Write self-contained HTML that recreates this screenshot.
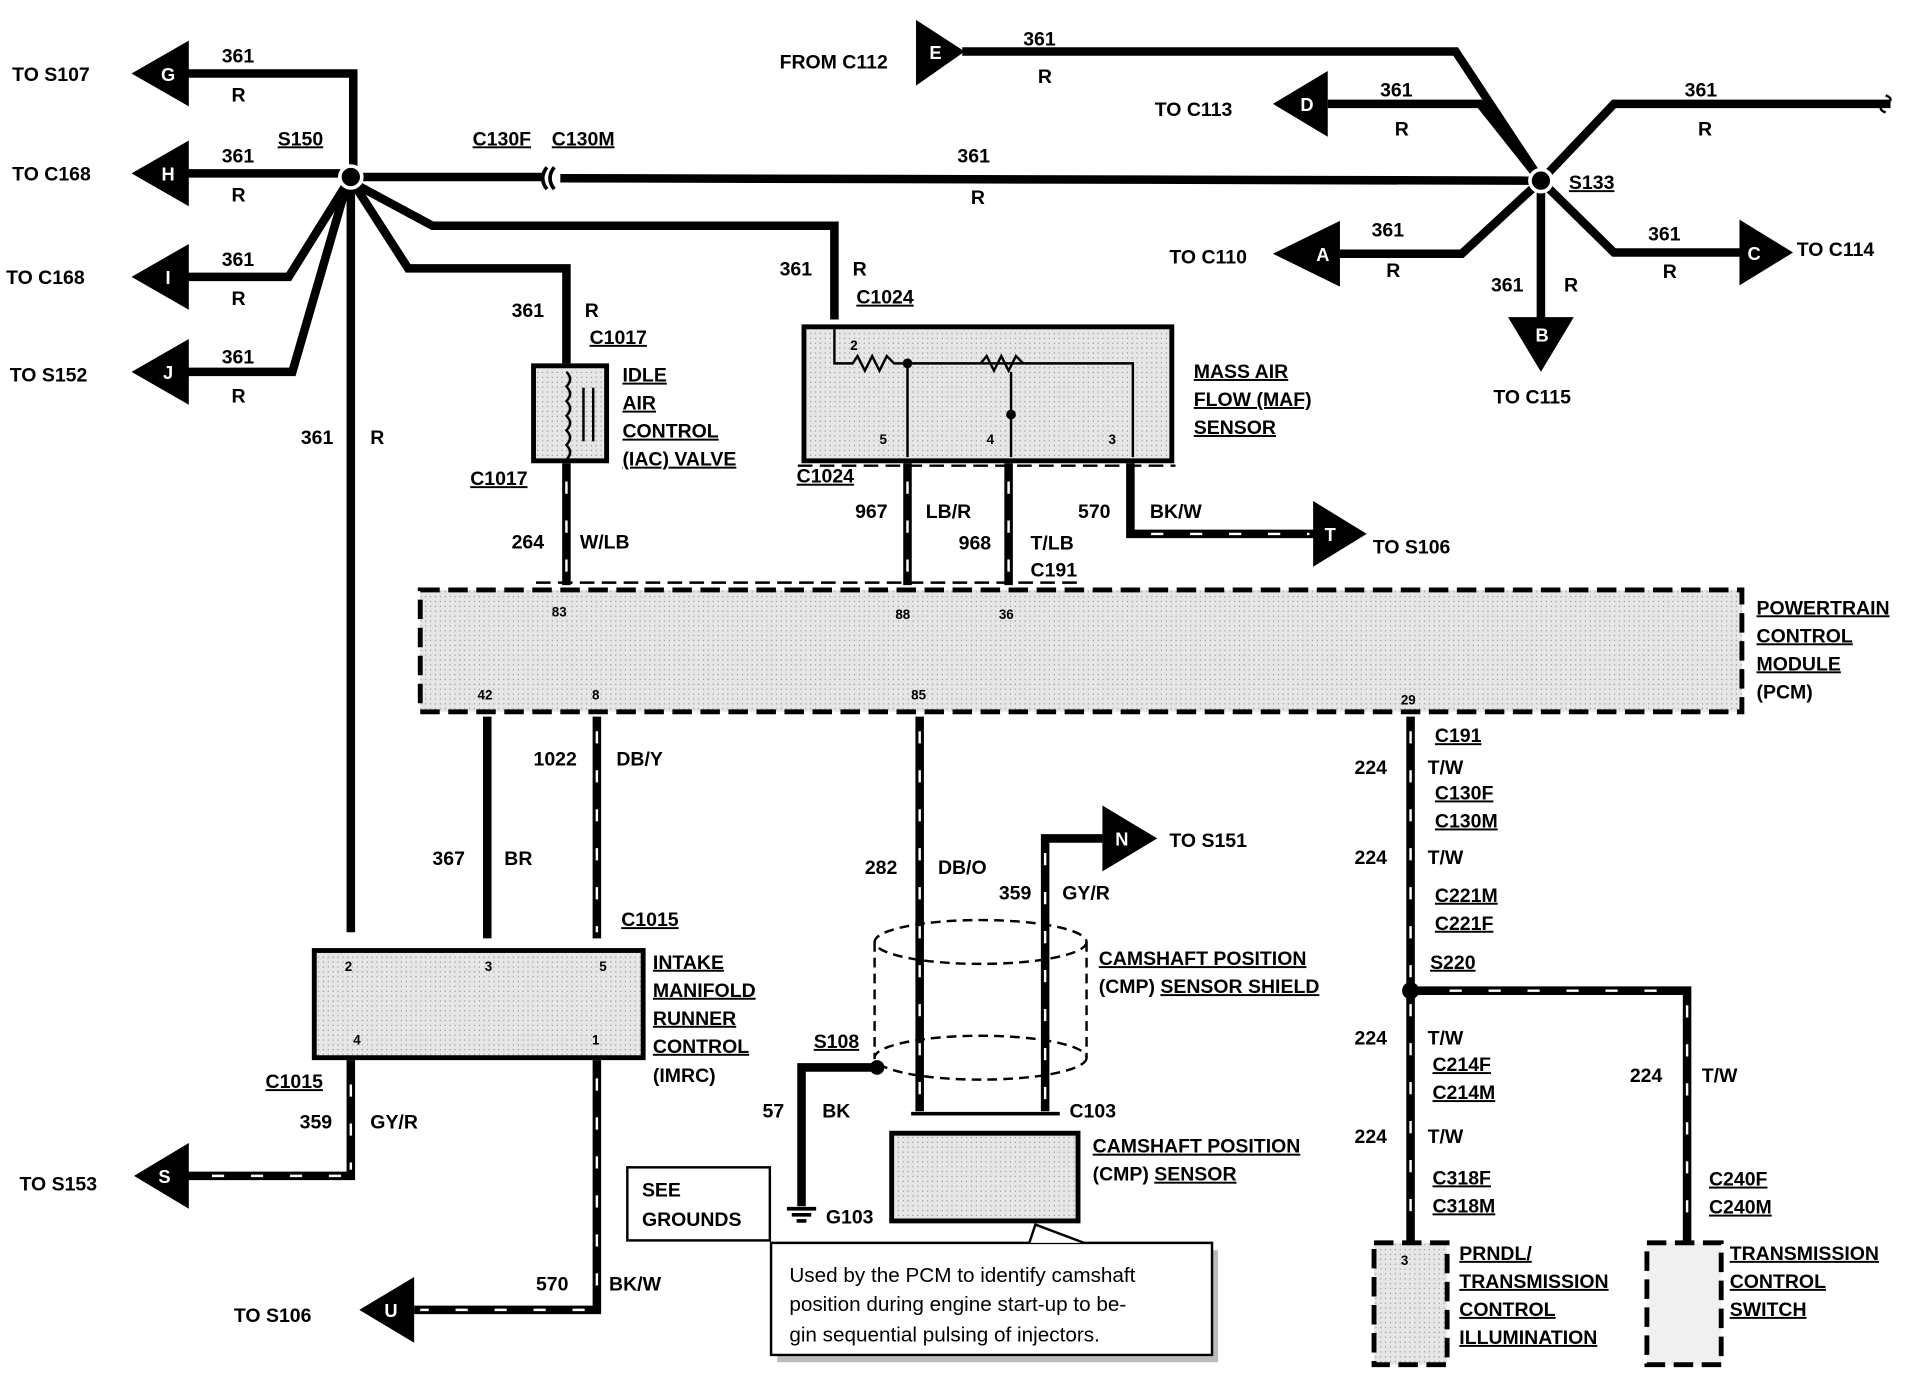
<!DOCTYPE html>
<html><head><meta charset="utf-8"><style>
html,body{margin:0;padding:0;background:#fff;}
svg{display:block;}
text{font-family:"Liberation Sans",sans-serif;font-weight:bold;font-size:16px;fill:#000;}
.u{text-decoration:underline;}
.s{font-size:11px;}
.w{fill:#fff;font-size:15px;}
.n{font-weight:normal;font-size:17px;}
</style></head><body>
<svg width="1910" height="1376" viewBox="0 0 1568 1129" xmlns="http://www.w3.org/2000/svg">
<defs>
<pattern id="g" width="4" height="4" patternUnits="userSpaceOnUse"><rect width="4" height="4" fill="#e6e6e6"/><rect x="1" y="1" width="1" height="1" fill="#999"/></pattern>
</defs>
<g fill="none" stroke="#000" stroke-width="7" stroke-linejoin="miter">
<!-- left S150 -->
<polyline points="150,60 290,60 290,145"/>
<line x1="150" y1="142" x2="288" y2="142"/>
<polyline points="150,227 237,227 285,150"/>
<polyline points="150,305 240,305 285,150"/>
<line x1="288" y1="145" x2="288" y2="765"/>
<line x1="288" y1="145" x2="445" y2="145"/>
<line x1="460" y1="146" x2="1265" y2="148"/>
<polyline points="290,150 355,185 685,185 685,262"/>
<polyline points="290,150 335,220 465,220 465,298"/>
<!-- right S133 -->
<polyline points="790,42 1195,42 1265,148"/>
<polyline points="1090,85 1215,85 1265,148"/>
<polyline points="1265,148 1325,85 1552,85"/>
<polyline points="1100,208 1200,208 1265,148"/>
<polyline points="1265,148 1325,207 1428,207"/>
<line x1="1265" y1="148" x2="1265" y2="262"/>
<!-- below components -->
<line x1="465" y1="380" x2="465" y2="480"/>
<line x1="745" y1="380" x2="745" y2="480"/>
<line x1="828" y1="380" x2="828" y2="480"/>
<polyline points="928,380 928,438 1082,438"/>
<line x1="400" y1="588" x2="400" y2="770"/>
<line x1="490" y1="588" x2="490" y2="770"/>
<line x1="755" y1="588" x2="755" y2="912"/>
<line x1="1158" y1="588" x2="1158" y2="1020"/>
<polyline points="1158,813 1385,813 1385,1020"/>
<polyline points="288,870 288,965 150,965"/>
<polyline points="490,870 490,1075 340,1075"/>
<polyline points="858,912 858,688 905,688"/>
<polyline points="720,876 658,876 658,990"/>
</g>
<!-- dashed white marks on wires -->
<g stroke="#fff" stroke-width="2" stroke-dasharray="10 22">
<line x1="465" y1="395" x2="465" y2="478"/>
<line x1="745" y1="395" x2="745" y2="478"/>
<line x1="828" y1="395" x2="828" y2="478"/>
<line x1="945" y1="438" x2="1075" y2="438"/>
<line x1="490" y1="600" x2="490" y2="765"/>
<line x1="755" y1="600" x2="755" y2="905"/>
<line x1="1158" y1="600" x2="1158" y2="1015"/>
<line x1="1385" y1="825" x2="1385" y2="1015"/>
<line x1="1190" y1="813" x2="1380" y2="813"/>
<line x1="288" y1="890" x2="288" y2="960"/>
<line x1="280" y1="965" x2="155" y2="965"/>
<line x1="490" y1="885" x2="490" y2="1070"/>
<line x1="480" y1="1075" x2="345" y2="1075"/>
<line x1="858" y1="700" x2="858" y2="905"/>
</g>
<!-- arrows -->
<g fill="#000">
<polygon points="108,60 155,33 155,87"/>
<polygon points="108,142 155,115 155,169"/>
<polygon points="108,227 155,200 155,254"/>
<polygon points="108,305 155,278 155,332"/>
<polygon points="792,42 752,16 752,70"/>
<polygon points="1045,85 1090,58 1090,112"/>
<polygon points="1045,208 1100,181 1100,235"/>
<polygon points="1472,207 1428,180 1428,234"/>
<polygon points="1265,305 1238,260 1292,260"/>
<polygon points="1122,438 1078,411 1078,465"/>
<polygon points="950,688 905,661 905,715"/>
<polygon points="110,965 155,938 155,992"/>
<polygon points="295,1075 340,1048 340,1102"/>
</g>
<g text-anchor="middle">
<text x="138" y="66" class="w">G</text><text x="138" y="148" class="w">H</text>
<text x="138" y="233" class="w">I</text><text x="138" y="311" class="w">J</text>
<text x="768" y="48" class="w">E</text><text x="1073" y="91" class="w">D</text>
<text x="1086" y="214" class="w">A</text><text x="1440" y="213" class="w">C</text>
<text x="1266" y="280" class="w">B</text><text x="1092" y="444" class="w">T</text>
<text x="921" y="694" class="w">N</text><text x="135" y="971" class="w">S</text>
<text x="321" y="1081" class="w">U</text>
</g>
<!-- splice nodes -->
<circle cx="288" cy="145" r="9" fill="#000" stroke="#fff" stroke-width="3"/>
<circle cx="1265" cy="148" r="9" fill="#000" stroke="#fff" stroke-width="3"/>
<circle cx="1158" cy="813" r="7" fill="#000"/>
<circle cx="720" cy="876" r="6" fill="#000"/>
<path d="M455,137 q-7,9 0,18 M449,137 q-7,9 0,18" stroke="#000" stroke-width="3" fill="none"/>
<!-- IAC -->
<rect x="438" y="300" width="60" height="78" fill="url(#g)" stroke="#000" stroke-width="4"/>
<path d="M465,305 q6,6 0,12 q6,6 0,12 q6,6 0,12 q6,6 0,12 q6,6 0,12 q6,6 0,12" stroke="#000" stroke-width="2" fill="none"/>
<line x1="479" y1="318" x2="479" y2="362" stroke="#000" stroke-width="2"/>
<line x1="487" y1="318" x2="487" y2="362" stroke="#000" stroke-width="2"/>
<!-- MAF -->
<rect x="660" y="268" width="302" height="110" fill="url(#g)" stroke="#000" stroke-width="4"/>
<g stroke="#000" stroke-width="2" fill="none">
<polyline points="685,270 685,298 700,298 704,292 710,304 716,292 722,304 728,292 734,298 930,298 930,375"/>
<line x1="745" y1="298" x2="745" y2="375"/>
<polyline points="805,298 810,292 816,304 822,292 828,304 834,292 840,298"/>
<line x1="830" y1="305" x2="830" y2="375"/>
</g>
<circle cx="745" cy="298" r="4"/><circle cx="830" cy="340" r="4"/>
<text x="698" y="287" class="s">2</text><text x="722" y="364" class="s">5</text>
<text x="810" y="364" class="s">4</text><text x="910" y="364" class="s">3</text>
<line x1="655" y1="382" x2="965" y2="382" stroke="#000" stroke-width="2" stroke-dasharray="12 6"/>
<!-- PCM -->
<rect x="345" y="484" width="1085" height="100" fill="url(#g)" stroke="#000" stroke-width="4" stroke-dasharray="16 7"/>
<text x="453" y="506" class="s">83</text><text x="735" y="508" class="s">88</text><text x="820" y="508" class="s">36</text>
<text x="392" y="574" class="s">42</text><text x="486" y="574" class="s">8</text><text x="748" y="574" class="s">85</text><text x="1150" y="578" class="s">29</text>
<line x1="440" y1="478" x2="890" y2="478" stroke="#000" stroke-width="2" stroke-dasharray="12 6"/>
<!-- IMRC -->
<rect x="258" y="780" width="270" height="88" fill="url(#g)" stroke="#000" stroke-width="4"/>
<text x="283" y="797" class="s">2</text><text x="398" y="797" class="s">3</text><text x="492" y="797" class="s">5</text>
<text x="290" y="857" class="s">4</text><text x="486" y="857" class="s">1</text>
<!-- CMP shield -->
<g stroke="#000" stroke-width="2" fill="none" stroke-dasharray="8 5">
<ellipse cx="805" cy="773" rx="87" ry="18"/><ellipse cx="805" cy="868" rx="87" ry="18"/>
<line x1="718" y1="773" x2="718" y2="868"/><line x1="892" y1="773" x2="892" y2="868"/>
</g>
<rect x="732" y="930" width="153" height="72" fill="url(#g)" stroke="#000" stroke-width="4"/>
<line x1="748" y1="914" x2="870" y2="914" stroke="#000" stroke-width="3"/>
<!-- ground -->
<g stroke="#000" stroke-width="3"><line x1="646" y1="992" x2="670" y2="992"/><line x1="650" y1="997" x2="666" y2="997"/><line x1="654" y1="1002" x2="662" y2="1002"/></g>
<rect x="515" y="958" width="117" height="60" fill="#fff" stroke="#000" stroke-width="2"/>
<!-- callout -->
<rect x="638" y="1026" width="362" height="92" fill="#bbb"/>
<polygon points="633,1020 995,1020 995,1112 633,1112" fill="#fff" stroke="#000" stroke-width="2"/>
<polyline points="845,1020 850,1005 890,1020" fill="#fff" stroke="#000" stroke-width="2"/>
<text x="648" y="1052" class="n">Used by the PCM to identify camshaft</text>
<text x="648" y="1076" class="n">position during engine start-up to be-</text>
<text x="648" y="1101" class="n">gin sequential pulsing of injectors.</text>
<!-- right boxes -->
<rect x="1128" y="1020" width="60" height="100" fill="url(#g)" stroke="#000" stroke-width="4" stroke-dasharray="16 7"/>
<rect x="1352" y="1020" width="61" height="100" fill="#f0f0f0" stroke="#000" stroke-width="4" stroke-dasharray="16 7"/>
<text x="1150" y="1038" class="s">3</text>
<!-- labels -->
<text x="10" y="66">TO S107</text><text x="10" y="148">TO C168</text><text x="5" y="233">TO C168</text><text x="8" y="313">TO S152</text>
<g><text x="182" y="51">361</text><text x="190" y="83">R</text><text x="182" y="133">361</text><text x="190" y="165">R</text>
<text x="182" y="218">361</text><text x="190" y="250">R</text><text x="182" y="298">361</text><text x="190" y="330">R</text></g>
<text x="228" y="119" class="u">S150</text><text x="388" y="119" class="u">C130F</text><text x="453" y="119" class="u">C130M</text>
<text x="786" y="133">361</text><text x="797" y="167">R</text>
<text x="247" y="364">361</text><text x="304" y="364">R</text>
<text x="420" y="260">361</text><text x="480" y="260">R</text><text x="484" y="282" class="u">C1017</text>
<text x="511" y="313" class="u">IDLE</text><text x="511" y="336" class="u">AIR</text><text x="511" y="359" class="u">CONTROL</text><text x="511" y="382" class="u">(IAC)  VALVE</text>
<text x="386" y="398" class="u">C1017</text>
<text x="420" y="450">264</text><text x="476" y="450">W/LB</text>
<text x="640" y="226">361</text><text x="700" y="226">R</text><text x="703" y="249" class="u">C1024</text>
<text x="980" y="310" class="u">MASS AIR</text><text x="980" y="333" class="u">FLOW (MAF)</text><text x="980" y="356" class="u">SENSOR</text>
<text x="654" y="396" class="u">C1024</text>
<text x="702" y="425">967</text><text x="760" y="425">LB/R</text><text x="787" y="451">968</text><text x="846" y="451">T/LB</text><text x="846" y="473">C191</text>
<text x="885" y="425">570</text><text x="944" y="425">BK/W</text><text x="1127" y="454">TO S106</text>
<text x="640" y="56">FROM C112</text><text x="840" y="37">361</text><text x="852" y="68">R</text>
<text x="948" y="95">TO C113</text><text x="1133" y="79">361</text><text x="1145" y="111">R</text>
<text x="1383" y="79">361</text><text x="1394" y="111">R</text><text x="1288" y="155" class="u">S133</text>
<text x="960" y="216">TO C110</text><text x="1126" y="194">361</text><text x="1138" y="227">R</text>
<text x="1353" y="197">361</text><text x="1365" y="228">R</text><text x="1475" y="210">TO C114</text>
<text x="1224" y="239">361</text><text x="1284" y="239">R</text><text x="1226" y="331">TO C115</text>
<text x="1442" y="504" class="u">POWERTRAIN</text><text x="1442" y="527" class="u">CONTROL</text><text x="1442" y="550" class="u">MODULE</text><text x="1442" y="573">(PCM)</text>
<text x="438" y="628">1022</text><text x="506" y="628">DB/Y</text>
<text x="355" y="710">367</text><text x="414" y="710">BR</text><text x="510" y="760" class="u">C1015</text>
<text x="710" y="717">282</text><text x="770" y="717">DB/O</text>
<text x="820" y="738">359</text><text x="872" y="738">GY/R</text><text x="960" y="695">TO S151</text>
<text x="902" y="792" class="u">CAMSHAFT POSITION</text><text x="902" y="815">(CMP) <tspan class="u">SENSOR SHIELD</tspan></text>
<text x="536" y="795" class="u">INTAKE</text><text x="536" y="818" class="u">MANIFOLD</text><text x="536" y="841" class="u">RUNNER</text><text x="536" y="864" class="u">CONTROL</text><text x="536" y="888">(IMRC)</text>
<text x="218" y="893" class="u">C1015</text><text x="246" y="926">359</text><text x="304" y="926">GY/R</text><text x="16" y="977">TO S153</text>
<text x="440" y="1059">570</text><text x="500" y="1059">BK/W</text><text x="192" y="1085">TO S106</text>
<text x="668" y="860" class="u">S108</text><text x="626" y="917">57</text><text x="675" y="917">BK</text><text x="878" y="917">C103</text>
<text x="527" y="982">SEE</text><text x="527" y="1006">GROUNDS</text><text x="678" y="1004">G103</text>
<text x="897" y="946" class="u">CAMSHAFT POSITION</text><text x="897" y="969">(CMP) <tspan class="u">SENSOR</tspan></text>
<text x="1178" y="609" class="u">C191</text><text x="1112" y="635">224</text><text x="1172" y="635">T/W</text>
<text x="1178" y="656" class="u">C130F</text><text x="1178" y="679" class="u">C130M</text>
<text x="1112" y="709">224</text><text x="1172" y="709">T/W</text>
<text x="1178" y="740" class="u">C221M</text><text x="1178" y="763" class="u">C221F</text><text x="1174" y="795" class="u">S220</text>
<text x="1112" y="857">224</text><text x="1172" y="857">T/W</text><text x="1176" y="879" class="u">C214F</text><text x="1176" y="902" class="u">C214M</text>
<text x="1112" y="938">224</text><text x="1172" y="938">T/W</text><text x="1176" y="972" class="u">C318F</text><text x="1176" y="995" class="u">C318M</text>
<text x="1338" y="888">224</text><text x="1397" y="888">T/W</text><text x="1403" y="973" class="u">C240F</text><text x="1403" y="996" class="u">C240M</text>
<text x="1198" y="1034" class="u">PRNDL/</text><text x="1198" y="1057" class="u">TRANSMISSION</text><text x="1198" y="1080" class="u">CONTROL</text><text x="1198" y="1103" class="u">ILLUMINATION</text>
<text x="1420" y="1034" class="u">TRANSMISSION</text><text x="1420" y="1057" class="u">CONTROL</text><text x="1420" y="1080" class="u">SWITCH</text>
<path d="M1548,78 q8,3 0,7 q-8,4 0,7" stroke="#000" stroke-width="2" fill="none"/>
</svg>
</body></html>
